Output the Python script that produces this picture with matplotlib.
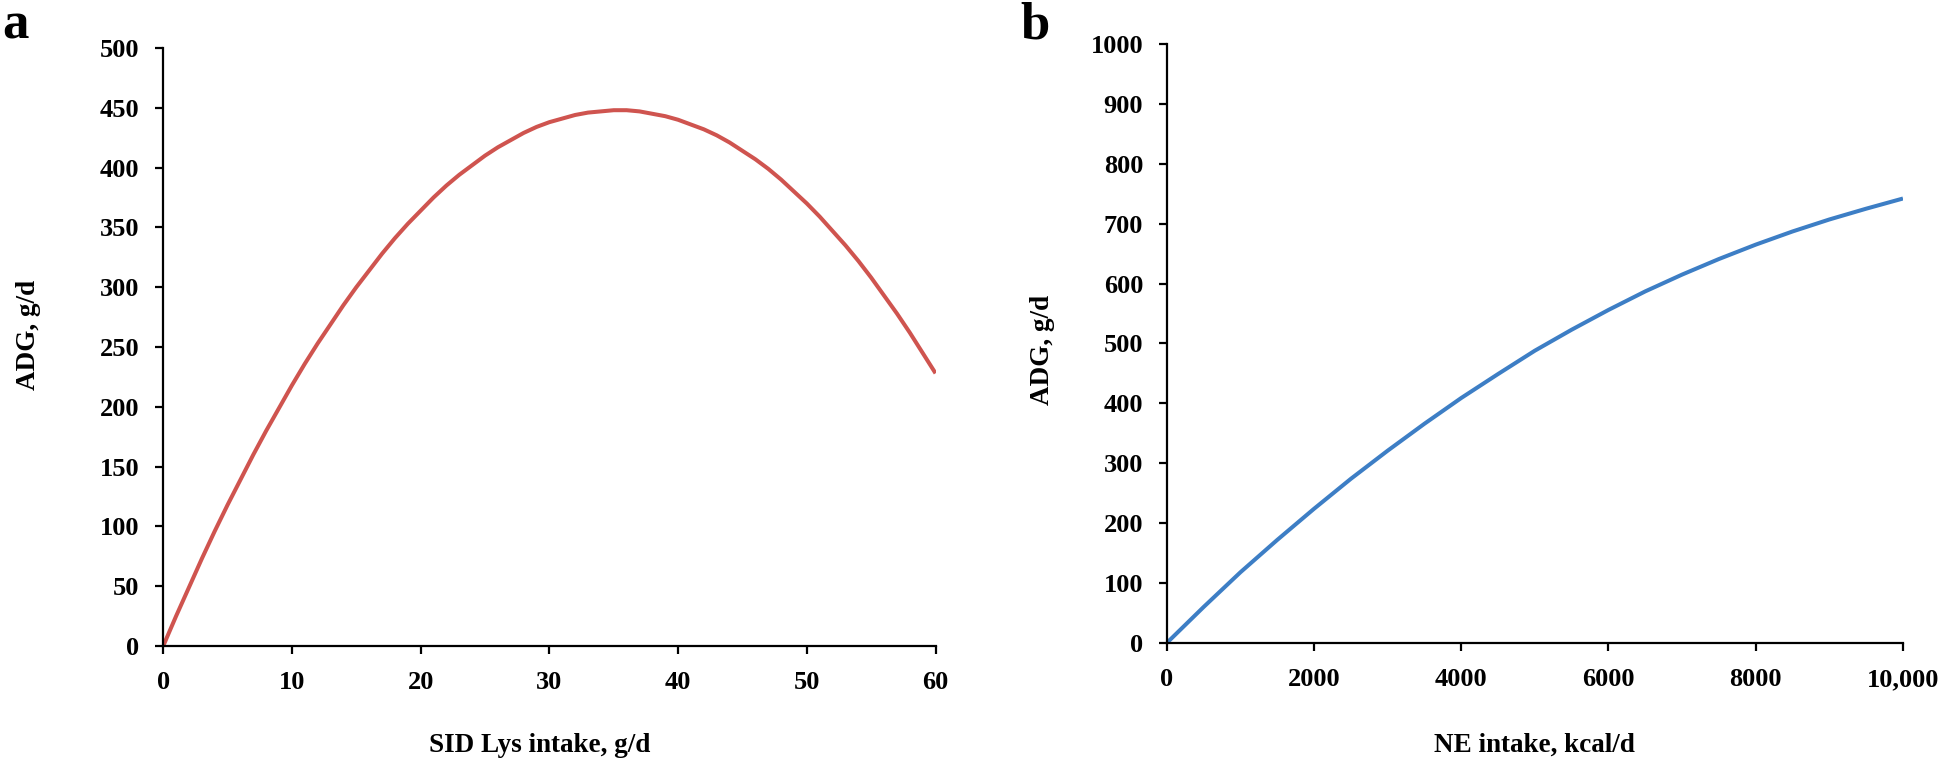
import numpy as np
import matplotlib
matplotlib.use("Agg")
import matplotlib.pyplot as plt

plt.rcParams['font.family'] = ['Liberation Serif', 'DejaVu Serif']
plt.rcParams['font.weight'] = 'bold'

# panel a: SID Lys intake (g/d) vs ADG (g/d)
lys_intake = list(range(0, 61))
adg_lys = [0, 25, 49, 73, 96, 118, 139, 160, 180, 199,
           218, 236, 253, 269, 285, 300, 314, 328, 341, 353,
           364, 375, 385, 394, 402, 410, 417, 423, 429, 434,
           438, 441, 444, 446, 447, 448, 448, 447, 445, 443,
           440, 436, 432, 427, 421, 414, 407, 399, 390, 380,
           370, 359, 347, 335, 322, 308, 293, 278, 262, 245,
           228]

# panel b: NE intake (kcal/d) vs ADG (g/d)
ne_intake = [0, 500, 1000, 1500, 2000, 2500, 3000, 3500, 4000, 4500, 5000,
             5500, 6000, 6500, 7000, 7500, 8000, 8500, 9000, 9500, 10000]
adg_ne = [0, 60, 118, 172, 224, 274, 321, 366, 409, 449, 488,
          523, 556, 587, 615, 641, 665, 687, 707, 725, 742]

ticks_a_x = [0, 10, 20, 30, 40, 50, 60]
ticks_a_y = list(range(0, 501, 50))
ticks_b_x = [0, 2000, 4000, 6000, 8000, 10000]
ticks_b_x_labels = ['0', '2000', '4000', '6000', '8000', '10,000']
ticks_b_y = list(range(0, 1001, 100))

fig = plt.figure(figsize=(19.43, 7.62), dpi=100)
ax1 = fig.add_axes([0.0840, 0.1522, 0.3975, 0.7848])
ax2 = fig.add_axes([0.6005, 0.1562, 0.3789, 0.7861])


def style(ax):
    for s in ['top', 'right']:
        ax.spines[s].set_visible(False)
    for s in ['left', 'bottom']:
        ax.spines[s].set_linewidth(1.6)
    ax.tick_params(direction='out', length=6, width=1.6, labelsize=19)
    ax.tick_params(axis='x', pad=12)
    ax.tick_params(axis='y', pad=11)
    for lab in ax.get_xticklabels() + ax.get_yticklabels():
        lab.set_fontweight('bold')


ax1.plot(lys_intake, adg_lys, color='#CF544F', lw=2.9, solid_capstyle='butt')
ax1.set_xlim(0, 60)
ax1.set_ylim(0, 500)
ax1.set_xticks(ticks_a_x)
ax1.set_yticks(ticks_a_y)
style(ax1)
ax1.set_xlabel('SID Lys intake, g/d', fontsize=19.5, fontweight='bold')
ax1.set_ylabel('ADG, g/d', fontsize=19.5, fontweight='bold')
ax1.xaxis.set_label_coords(0.488, -0.145)
ax1.yaxis.set_label_coords(-0.158, 0.52)

ax2.plot(ne_intake, adg_ne, color='#3D7EC5', lw=2.9, solid_capstyle='butt')
ax2.set_xlim(0, 10000)
ax2.set_ylim(0, 1000)
ax2.set_xticks(ticks_b_x)
ax2.set_xticklabels(ticks_b_x_labels)
ax2.set_yticks(ticks_b_y)
style(ax2)
ax2.set_xlabel('NE intake, kcal/d', fontsize=19.5, fontweight='bold')
ax2.set_ylabel('ADG, g/d', fontsize=19.5, fontweight='bold')
ax2.xaxis.set_label_coords(0.5, -0.15)
ax2.yaxis.set_label_coords(-0.152, 0.49)

fig.text(0.001, 0.998, 'a', fontsize=38, fontweight='bold', va='top', ha='left')
fig.text(0.525, 0.998, 'b', fontsize=38, fontweight='bold', va='top', ha='left')

fig.savefig('out.png', dpi=100, facecolor='white')
